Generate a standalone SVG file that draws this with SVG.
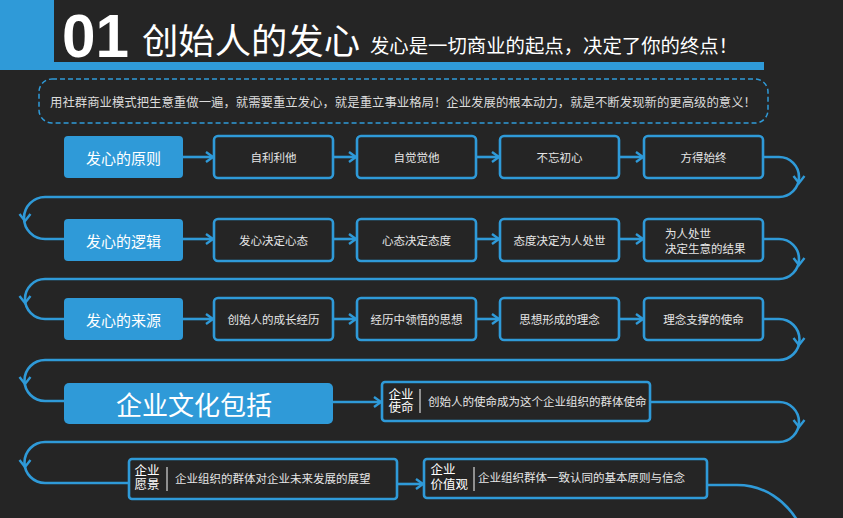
<svg xmlns="http://www.w3.org/2000/svg" width="843" height="518" viewBox="0 0 843 518">
<defs>
<style>
.bg{fill:#252525}
.blue{fill:#2f9ad8}
.box{fill:#252525;stroke:#2f9ad8;stroke-width:2.6}
.con{fill:none;stroke:#2f9ad8;stroke-width:2.6}
.chev{fill:none;stroke:#2f9ad8;stroke-width:2.4;stroke-linejoin:miter}
.t{font-family:"Noto Sans CJK SC","Noto Sans",sans-serif;fill:#e6e6e6;font-size:11.5px;text-anchor:middle;dominant-baseline:central}
.tl{font-family:"Noto Sans CJK SC","Noto Sans",sans-serif;fill:#e6e6e6;font-size:11.5px;dominant-baseline:central}
.lab{font-family:"Noto Sans CJK SC","Noto Sans",sans-serif;fill:#ffffff;font-size:12.5px}
.bt{font-family:"Noto Sans CJK SC","Noto Sans",sans-serif;fill:#ffffff;font-size:15px;text-anchor:middle;dominant-baseline:central}
.big{font-size:26px}
.sep{stroke:#d8d8d8;stroke-width:1.2}
</style>
<marker id="arr" markerUnits="userSpaceOnUse" markerWidth="14" markerHeight="14" refX="9" refY="6" orient="auto">
<path d="M2,1 L9,6 L2,11" fill="none" stroke="#2f9ad8" stroke-width="2.4"/>
</marker>
<path id="down" d="M-5.5,-5 L0,2 L5.5,-5" class="chev"/>
</defs>
<rect class="bg" x="0" y="0" width="843" height="518"/>

<g id="header">
<rect class="blue" x="0" y="0" width="54" height="70"/>
<rect class="blue" x="0" y="62" width="764" height="8"/>
<text x="62" y="57" font-family="'Liberation Sans',Arial,sans-serif" font-weight="700" font-size="62" fill="#ffffff" textLength="67" lengthAdjust="spacingAndGlyphs">01</text>
<text x="142" y="54" font-family="'Noto Sans CJK SC',sans-serif" font-size="35" fill="#ffffff" textLength="218" lengthAdjust="spacingAndGlyphs">创始人的发心</text>
<text x="370" y="53" font-family="'Noto Sans CJK SC',sans-serif" font-size="19" fill="#ffffff" textLength="368" lengthAdjust="spacingAndGlyphs">发心是一切商业的起点，决定了你的终点！</text>
</g>

<g id="intro">
<rect x="39" y="79" width="729" height="44" rx="13" fill="none" stroke="#2f9ad8" stroke-width="1.5" stroke-dasharray="5 3"/>
<text x="50" y="101" font-family="'Noto Sans CJK SC',sans-serif" font-size="12.5" fill="#dcdcdc" dominant-baseline="central" textLength="706" lengthAdjust="spacingAndGlyphs">用社群商业模式把生意重做一遍，就需要重立发心，就是重立事业格局！企业发展的根本动力，就是不断发现新的更高级的意义！</text>
</g>

<g id="connectors">
<path class="con" marker-end="url(#arr)" d="M183,157 H213"/>
<path class="con" marker-end="url(#arr)" d="M333,157 H356"/>
<path class="con" marker-end="url(#arr)" d="M476,157 H499"/>
<path class="con" marker-end="url(#arr)" d="M619,157 H643"/>
<path class="con" d="M763,157 H779 A20,20 0 0 1 779,197 H45 A21,21 0 0 0 45,239 H64"/>
<path class="con" marker-end="url(#arr)" d="M183,239 H213"/>
<path class="con" marker-end="url(#arr)" d="M333,239 H356"/>
<path class="con" marker-end="url(#arr)" d="M476,239 H499"/>
<path class="con" marker-end="url(#arr)" d="M619,239 H643"/>
<path class="con" d="M763,239 H779 A20,20 0 0 1 779,279 H45 A20,20 0 0 0 45,319 H64"/>
<path class="con" marker-end="url(#arr)" d="M183,319 H213"/>
<path class="con" marker-end="url(#arr)" d="M333,319 H356"/>
<path class="con" marker-end="url(#arr)" d="M476,319 H499"/>
<path class="con" marker-end="url(#arr)" d="M619,319 H643"/>
<path class="con" d="M763,319 H779 A20.5,20.5 0 0 1 779,360 H45 A20.5,20.5 0 0 0 45,401 H64"/>
<path class="con" marker-end="url(#arr)" d="M333,402 H381"/>
<path class="con" d="M650,402 H779 A20,20 0 0 1 779,442 H45 A20.5,20.5 0 0 0 45,483 H129"/>
<path class="con" marker-end="url(#arr)" d="M397,484 H423"/>
<path class="con" d="M707,485 H737 C764,485 786,500 800,525"/>
<use href="#down" x="799" y="181"/>
<use href="#down" x="25" y="219"/>
<use href="#down" x="799" y="263"/>
<use href="#down" x="25" y="301"/>
<use href="#down" x="799" y="343"/>
<use href="#down" x="25" y="382"/>
<use href="#down" x="799" y="425"/>
<use href="#down" x="25" y="465"/>
</g>

<g id="n-principle"><rect class="blue" x="64" y="136" width="119" height="42" rx="4"/><text class="bt" x="123.5" y="157">发心的原则</text></g>
<g id="n-p1"><rect class="box" x="214" y="136" width="119" height="42" rx="4"/><text class="t" x="273.5" y="157">自利利他</text></g>
<g id="n-p2"><rect class="box" x="357" y="136" width="119" height="42" rx="4"/><text class="t" x="416.5" y="157">自觉觉他</text></g>
<g id="n-p3"><rect class="box" x="500" y="136" width="119" height="42" rx="4"/><text class="t" x="559.5" y="157">不忘初心</text></g>
<g id="n-p4"><rect class="box" x="644" y="136" width="119" height="42" rx="4"/><text class="t" x="703.5" y="157">方得始终</text></g>

<g id="n-logic"><rect class="blue" x="64" y="219" width="119" height="42" rx="4"/><text class="bt" x="123.5" y="240">发心的逻辑</text></g>
<g id="n-l1"><rect class="box" x="214" y="219" width="119" height="42" rx="4"/><text class="t" x="273.5" y="240">发心决定心态</text></g>
<g id="n-l2"><rect class="box" x="357" y="219" width="119" height="42" rx="4"/><text class="t" x="416.5" y="240">心态决定态度</text></g>
<g id="n-l3"><rect class="box" x="500" y="219" width="119" height="42" rx="4"/><text class="t" x="559.5" y="240">态度决定为人处世</text></g>
<g id="n-l4"><rect class="box" x="644" y="219" width="119" height="42" rx="4"/><text class="tl" x="665" y="233">为人处世<tspan x="665" dy="15">决定生意的结果</tspan></text></g>

<g id="n-source"><rect class="blue" x="64" y="298" width="119" height="42" rx="4"/><text class="bt" x="123.5" y="319">发心的来源</text></g>
<g id="n-s1"><rect class="box" x="214" y="298" width="119" height="42" rx="4"/><text class="t" x="273.5" y="319">创始人的成长经历</text></g>
<g id="n-s2"><rect class="box" x="357" y="298" width="119" height="42" rx="4"/><text class="t" x="416.5" y="319">经历中领悟的思想</text></g>
<g id="n-s3"><rect class="box" x="500" y="298" width="119" height="42" rx="4"/><text class="t" x="559.5" y="319">思想形成的理念</text></g>
<g id="n-s4"><rect class="box" x="644" y="298" width="119" height="42" rx="4"/><text class="t" x="703.5" y="319">理念支撑的使命</text></g>

<g id="n-culture"><rect class="blue" x="64" y="383" width="269" height="41" rx="5"/><text class="bt big" x="194" y="403">企业文化包括</text></g>
<g id="n-mission"><rect class="box" x="382" y="382" width="268" height="39" rx="3"/>
<text class="lab" x="388.5" y="398.5">企业<tspan x="388.5" dy="13.5">使命</tspan></text>
<line class="sep" x1="420" y1="389" x2="420" y2="413"/>
<text class="tl" x="428" y="401">创始人的使命成为这个企业组织的群体使命</text></g>

<g id="n-vision"><rect class="box" x="129" y="459" width="268" height="40" rx="3"/>
<text class="lab" x="134.5" y="474.5">企业<tspan x="134.5" dy="14">愿景</tspan></text>
<line class="sep" x1="167" y1="467" x2="167" y2="491"/>
<text class="tl" x="175" y="478">企业组织的群体对企业未来发展的展望</text></g>

<g id="n-values"><rect class="box" x="424" y="459" width="283" height="39" rx="3"/>
<text class="lab" x="430.5" y="473.5">企业<tspan x="430.5" dy="15">价值观</tspan></text>
<line class="sep" x1="474" y1="467" x2="474" y2="491"/>
<text class="tl" x="478" y="477">企业组织群体一致认同的基本原则与信念</text></g>
</svg>
